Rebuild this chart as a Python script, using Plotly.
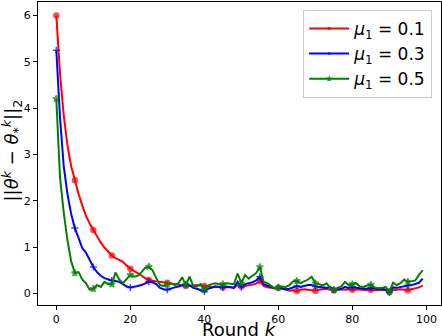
import plotly.graph_objects as go

rounds = list(range(100))

err_mu01 = [6.0, 4.75, 3.85, 3.2, 2.75, 2.44, 2.15, 1.9, 1.68, 1.51,
            1.37, 1.22, 1.1, 0.99, 0.9, 0.82, 0.76, 0.72, 0.68, 0.6,
            0.53, 0.48, 0.44, 0.38, 0.33, 0.29, 0.27, 0.26, 0.25, 0.24,
            0.23, 0.22, 0.2, 0.19, 0.17, 0.16, 0.16, 0.17, 0.18, 0.17,
            0.16, 0.15, 0.14, 0.15, 0.14, 0.13, 0.14, 0.14, 0.13, 0.18,
            0.15, 0.16, 0.17, 0.19, 0.21, 0.27, 0.16, 0.13, 0.12, 0.11,
            0.12, 0.11, 0.08, 0.06, 0.07, 0.05, 0.08, 0.09, 0.08, 0.07,
            0.06, 0.08, 0.09, 0.1, 0.08, 0.07, 0.09, 0.08, 0.08, 0.09,
            0.08, 0.09, 0.08, 0.08, 0.07, 0.08, 0.07, 0.08, 0.08, 0.07,
            0.04, 0.07, 0.08, 0.09, 0.08, 0.07, 0.09, 0.11, 0.13, 0.17]

err_mu03 = [5.25, 3.8, 2.75, 2.15, 1.72, 1.41, 1.2, 0.98, 0.88, 0.72,
            0.57, 0.46, 0.38, 0.33, 0.3, 0.28, 0.27, 0.25, 0.2, 0.15,
            0.13, 0.14, 0.16, 0.18, 0.22, 0.25, 0.24, 0.2, 0.12, 0.09,
            0.08, 0.11, 0.13, 0.15, 0.17, 0.2, 0.18, 0.12, 0.1, 0.07,
            0.04, 0.1, 0.13, 0.15, 0.14, 0.13, 0.15, 0.14, 0.12, 0.25,
            0.14, 0.2, 0.22, 0.24, 0.28, 0.36, 0.2, 0.17, 0.14, 0.11,
            0.12, 0.1, 0.09, 0.1, 0.13, 0.16, 0.14, 0.16, 0.18, 0.18,
            0.15, 0.14, 0.13, 0.12, 0.14, 0.08, 0.08, 0.1, 0.14, 0.12,
            0.14, 0.12, 0.11, 0.1, 0.1, 0.12, 0.1, 0.09, 0.1, 0.08,
            0.02, 0.13, 0.12, 0.14, 0.16, 0.17, 0.18, 0.2, 0.23, 0.32]

err_mu05 = [4.2, 2.5, 1.75, 1.15, 0.7, 0.44, 0.46, 0.3, 0.22, 0.08,
            0.1, 0.18, 0.14, 0.25, 0.2, 0.2, 0.45, 0.3, 0.22, 0.3,
            0.4, 0.36, 0.38, 0.46, 0.55, 0.58, 0.5, 0.33, 0.18, 0.16,
            0.19, 0.22, 0.18, 0.22, 0.35, 0.18, 0.36, 0.16, 0.15, 0.2,
            0.08, 0.17, 0.2, 0.22, 0.2, 0.2, 0.22, 0.21, 0.2, 0.43,
            0.22, 0.4, 0.32, 0.38, 0.44, 0.57, 0.25, 0.22, 0.16, 0.11,
            0.13, 0.15, 0.14, 0.18, 0.26, 0.27, 0.22, 0.26, 0.3, 0.36,
            0.22, 0.2, 0.17, 0.22, 0.12, 0.07, 0.12, 0.15, 0.25, 0.18,
            0.2, 0.22, 0.15, 0.14, 0.17, 0.19, 0.13, 0.11, 0.12, 0.14,
            0.03, 0.23, 0.18, 0.22, 0.3, 0.25, 0.26, 0.28, 0.4, 0.5]

x_ticks = [0, 20, 40, 60, 80, 100]
y_ticks = [0, 1, 2, 3, 4, 5, 6]
series_names = ["<i>μ</i><sub>1</sub> = 0.1", "<i>μ</i><sub>1</sub> = 0.3", "<i>μ</i><sub>1</sub> = 0.5"]
series_values = [err_mu01, err_mu03, err_mu05]
colors = ["#ff0000", "#0000ff", "#008000"]
symbols = ["circle", "cross-thin", "star"]
msizes = [5, 5, 5]

fig = go.Figure()
for name, vals, c, sym, ms in zip(series_names, series_values, colors, symbols, msizes):
    sizes = [ms if i % 5 == 0 else 0 for i in range(len(vals))]
    fig.add_trace(go.Scatter(
        x=rounds, y=vals, name=name, mode="lines+markers",
        line=dict(color=c, width=2),
        marker=dict(symbol=sym, size=sizes, color=c, line=dict(color=c, width=1.5)),
    ))

axis_common = dict(
    showline=True, linecolor="black", linewidth=1, mirror=True,
    ticks="outside", ticklen=4, tickcolor="black", tickwidth=1,
    showgrid=False, zeroline=False, automargin=False,
    tickfont=dict(family="DejaVu Sans", size=11, color="black"),
)

fig.update_layout(
    width=442, height=336,
    margin=dict(l=38, r=1, t=2, b=31),
    paper_bgcolor="white", plot_bgcolor="white",
    font=dict(family="DejaVu Sans", color="black"),
    xaxis=dict(range=[-4.95, 103.95], tickvals=x_ticks, **axis_common),
    yaxis=dict(range=[-0.25, 6.29], tickvals=y_ticks, **axis_common),
    legend=dict(x=0.978, y=0.974, xanchor="right", yanchor="top",
                bordercolor="#cccccc", borderwidth=1, bgcolor="rgba(255,255,255,0.8)",
                font=dict(size=17, color="black"), itemwidth=40, tracegroupgap=0),
    showlegend=True,
    annotations=[
        dict(text="Round <i>k</i>", xref="paper", yref="paper", x=0.5, y=-0.081,
             xanchor="center", yanchor="middle", showarrow=False,
             font=dict(size=18, color="black")),
        dict(text="||<i>θ</i><sup><i>k</i></sup> − <i>θ</i><sub>*</sub><sup><i>k</i></sup>||<sub>2</sub>",
             xref="paper", yref="paper", x=-0.0645, y=0.51, textangle=-90,
             xanchor="center", yanchor="middle", showarrow=False,
             font=dict(size=18, color="black")),
    ],
)

fig.write_html("out.html", config={"displayModeBar": False},
               post_script="document.body.style.margin='0';document.body.style.overflow='hidden';")
